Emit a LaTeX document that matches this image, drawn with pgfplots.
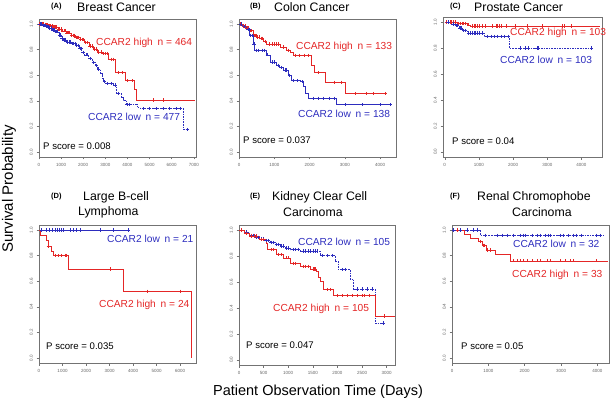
\documentclass[border=0pt]{standalone}
\usepackage{fontspec}
\setmainfont{Liberation Sans}
\usepackage{pgfplots}
\pgfplotsset{compat=1.18}
\definecolor{ccred}{RGB}{228,38,38}
\definecolor{ccblue}{RGB}{45,45,190}
\newcommand\ttlfont{\fontsize{12.3}{13}\selectfont}
\newcommand\pnlfont{\fontsize{7.5}{8}\selectfont\bfseries}
\newcommand\lblfont{\fontsize{10.2}{11}\selectfont}
\newcommand\pfont{\fontsize{9.6}{10}\selectfont}
\newcommand\tkfont{\fontsize{4.5}{5}\selectfont}
\pgfplotsset{
  kmaxis/.style={scale only axis, anchor=north west, width=157pt, height=138pt,
    xmin=0, ymin=-0.04, ymax=1.04,
    ytick={0,0.2,0.4,0.6,0.8,1}, yticklabels={0.0,0.2,0.4,0.6,0.8,1.0},
    axis line style={black!55, line width=0.5pt},
    tick style={black!55, line width=0.4pt},
    tick align=outside, major tick length=2.5pt, tick pos=left,
    ticklabel style={font=\tkfont, text=black!60},
    yticklabel style={rotate=90, anchor=south},
    scaled ticks=false,
    /pgf/number format/1000 sep={},
    /pgf/number format/assume math mode=true,
    clip=false},
  redline/.style={const plot, ccred, line width=0.5pt, no marks},
  blueline/.style={const plot, ccblue, line width=0.5pt, no marks},
  bluedash/.style={const plot, ccblue, line width=0.5pt, no marks, dash pattern=on 1.6pt off 1pt},
  redcen/.style={only marks, mark=+, mark size=1.7pt, ccred, mark options={line width=0.5pt, solid}},
  bluecen/.style={only marks, mark=+, mark size=1.7pt, ccblue, mark options={line width=0.5pt, solid}},
}
\begin{document}
\begin{tikzpicture}[x=1pt,y=1pt]
\useasboundingbox (0,0) rectangle (610,-401);
% ---------- (A) Breast Cancer
\begin{axis}[kmaxis, at={(39pt,-19pt)}, xmax=7100, xtick={0,1000,2000,3000,4000,5000,6000,7000}]
\addplot[redline] coordinates {(0,1)(250,0.995)(450,0.988)(650,0.978)(850,0.963)(1050,0.948)(1250,0.932)(1450,0.913)(1650,0.896)(1850,0.879)(2050,0.858)(2250,0.83)(2450,0.806)(2650,0.783)(2850,0.77)(3136,0.724)(3440,0.62)(3890,0.557)(4330,0.49)(4410,0.407)(7050,0.407)};
\addplot[redcen] coordinates {(30,1)(90,1)(150,1)(210,1)(270,0.995)(330,0.995)(390,0.995)(470,0.988)(530,0.988)(590,0.988)(670,0.978)(730,0.978)(790,0.978)(870,0.963)(930,0.963)(990,0.963)(1070,0.948)(1130,0.948)(1190,0.948)(1270,0.932)(1330,0.932)(1390,0.932)(1470,0.913)(1530,0.913)(1590,0.913)(1670,0.896)(1730,0.896)(1790,0.896)(1880,0.879)(1960,0.879)(2020,0.879)(2100,0.858)(2200,0.858)(2300,0.83)(2400,0.83)(2500,0.806)(2600,0.806)(2700,0.783)(2800,0.783)(2900,0.77)(3000,0.77)(3080,0.77)(3250,0.724)(3380,0.724)(3600,0.62)(3750,0.62)(4000,0.557)(4200,0.557)(5180,0.407)(5640,0.407)};
\addplot[bluedash] coordinates {(0,1)(150,0.99)(300,0.98)(450,0.97)(600,0.955)(750,0.94)(900,0.915)(1000,0.89)(1100,0.875)(1250,0.86)(1450,0.848)(1650,0.832)(1800,0.81)(1924,0.78)(2050,0.76)(2227,0.73)(2400,0.7)(2530,0.678)(2650,0.65)(2760,0.613)(2850,0.58)(2909,0.549)(3000,0.535)(3364,0.523)(3515,0.459)(3700,0.43)(3818,0.407)(3950,0.371)(4424,0.348)(4575,0.338)(6540,0.175)(6710,0.175)};
\addplot[bluecen] coordinates {(40,1)(100,1)(170,0.99)(230,0.99)(280,0.99)(330,0.98)(390,0.98)(430,0.98)(480,0.97)(540,0.97)(630,0.955)(690,0.955)(780,0.94)(840,0.94)(930,0.915)(970,0.915)(1030,0.89)(1070,0.89)(1130,0.875)(1200,0.875)(1300,0.86)(1370,0.86)(1420,0.86)(1500,0.848)(1570,0.848)(1620,0.848)(1700,0.832)(1760,0.832)(1850,0.81)(1900,0.81)(1980,0.78)(2120,0.76)(2180,0.76)(2300,0.73)(2460,0.7)(2600,0.678)(2700,0.65)(2950,0.549)(3100,0.535)(3250,0.535)(3450,0.523)(3600,0.459)(3986,0.371)(4100,0.371)(4720,0.338)(5000,0.338)(5300,0.338)(5600,0.338)(5900,0.338)(6200,0.338)(6400,0.338)(6710,0.175)};
\end{axis}
% ---------- (B) Colon Cancer
\begin{axis}[kmaxis, at={(239pt,-19pt)}, xmax=4450, xtick={0,1000,2000,3000,4000}]
\addplot[redline] coordinates {(0,1)(100,0.985)(208,0.97)(300,0.95)(398,0.91)(500,0.9)(588,0.889)(700,0.865)(777,0.845)(1156,0.82)(1350,0.795)(1440,0.78)(1535,0.755)(2057,0.68)(2133,0.62)(2436,0.544)(3005,0.456)(4142,0.456)};
\addplot[redcen] coordinates {(40,1)(70,1)(130,0.985)(170,0.985)(230,0.97)(270,0.97)(330,0.95)(360,0.95)(420,0.91)(450,0.91)(480,0.91)(530,0.9)(560,0.9)(620,0.889)(660,0.889)(730,0.865)(850,0.845)(950,0.845)(1000,0.845)(1050,0.845)(1100,0.845)(1250,0.82)(1400,0.795)(1600,0.755)(1700,0.755)(1850,0.755)(1950,0.755)(2250,0.62)(2700,0.544)(2900,0.544)(3300,0.456)(3600,0.456)(3800,0.456)(4142,0.456)};
\addplot[blueline] coordinates {(0,1)(100,0.98)(208,0.96)(303,0.91)(398,0.845)(446,0.794)(760,0.76)(872,0.704)(1062,0.678)(1150,0.66)(1251,0.64)(1393,0.6)(1488,0.557)(1725,0.549)(1820,0.51)(1867,0.459)(1962,0.42)(2768,0.369)(4284,0.369)};
\addplot[bluecen] coordinates {(50,1)(150,0.98)(250,0.96)(280,0.96)(330,0.91)(370,0.91)(420,0.845)(480,0.794)(550,0.794)(650,0.794)(720,0.794)(800,0.76)(950,0.704)(1000,0.704)(1100,0.678)(1200,0.66)(1300,0.64)(1350,0.64)(1430,0.6)(1550,0.557)(1650,0.557)(1780,0.549)(2100,0.42)(2250,0.42)(2400,0.42)(2550,0.42)(2700,0.42)(3000,0.369)(3500,0.369)(4000,0.369)(4284,0.369)};
\end{axis}
% ---------- (C) Prostate Cancer
\begin{axis}[kmaxis, at={(443pt,-17pt)}, height=140pt, width=159pt, xmin=-50, xmax=4600, xtick={0,1000,2000,3000,4000}]
\addplot[redline] coordinates {(0,1)(364,0.99)(658,0.98)(757,0.97)(4550,0.97)};
\addplot[redcen] coordinates {(50,1)(100,1)(150,1)(200,1)(250,1)(300,1)(400,0.99)(450,0.99)(500,0.99)(550,0.99)(600,0.99)(700,0.98)(800,0.97)(850,0.97)(900,0.97)(950,0.97)(1000,0.97)(1100,0.97)(1200,0.97)(1400,0.97)(1500,0.97)(1550,0.97)(1600,0.97)(1650,0.97)(1800,0.97)(2060,0.97)(2400,0.97)(2850,0.97)(3450,0.97)(3500,0.97)(3700,0.97)};
\addplot[bluedash] coordinates {(0,1)(167,0.987)(315,0.974)(413,0.956)(511,0.936)(658,0.918)(1150,0.89)(1887,0.8)(4295,0.8)};
\addplot[bluecen] coordinates {(100,1)(250,0.987)(350,0.974)(380,0.974)(450,0.956)(480,0.956)(550,0.936)(600,0.936)(700,0.918)(750,0.918)(800,0.918)(850,0.918)(900,0.918)(950,0.918)(1000,0.918)(1100,0.918)(1250,0.89)(1350,0.89)(1450,0.89)(1550,0.89)(1650,0.89)(1750,0.89)(1850,0.89)(2200,0.8)(2350,0.8)(2450,0.8)(2700,0.8)(2750,0.8)(4295,0.8)};
\end{axis}
% ---------- (D) Large B-cell Lymphoma
\begin{axis}[kmaxis, at={(39pt,-225pt)}, xmax=6680, xtick={0,1000,2000,3000,4000,5000,6000}]
\addplot[blueline] coordinates {(0,1)(3814,1)};
\addplot[bluecen] coordinates {(100,1)(314,1)(457,1)(571,1)(671,1)(771,1)(857,1)(957,1)(1029,1)(1343,1)(1457,1)(1600,1)(1743,1)(2600,1)(3171,1)(3814,1)};
\addplot[redline] coordinates {(0,1)(57,0.96)(314,0.92)(386,0.875)(528,0.837)(600,0.8)(1243,0.695)(3600,0.52)(6457,0)};
\addplot[redcen] coordinates {(400,0.875)(671,0.8)(814,0.8)(957,0.8)(1100,0.8)(1130,0.8)(1171,0.8)(3029,0.695)(4600,0.52)(6029,0.52)};
\end{axis}
% ---------- (E) Kidney Clear Cell Carcinoma
\begin{axis}[kmaxis, at={(239pt,-225pt)}, height=140pt, width=156pt, xmax=3170, xtick={0,500,1000,1500,2000,2500,3000}]
\addplot[bluedash] coordinates {(0,1)(100,0.985)(217,0.96)(320,0.945)(421,0.933)(525,0.92)(625,0.907)(728,0.89)(828,0.877)(930,0.862)(1032,0.85)(1236,0.838)(1643,0.805)(1950,0.761)(2016,0.697)(2254,0.625)(2322,0.547)(2763,0.285)(2933,0.285)};
\addplot[bluecen] coordinates {(50,1)(150,0.985)(250,0.96)(290,0.96)(350,0.945)(390,0.945)(450,0.933)(500,0.933)(550,0.92)(600,0.92)(650,0.907)(700,0.907)(760,0.89)(800,0.89)(860,0.877)(900,0.877)(960,0.862)(1000,0.862)(1100,0.85)(1150,0.85)(1200,0.85)(1300,0.838)(1350,0.838)(1400,0.838)(1450,0.838)(1500,0.838)(1550,0.838)(1580,0.838)(1700,0.805)(1800,0.805)(1900,0.805)(2100,0.697)(2150,0.697)(2400,0.547)(2500,0.547)(2600,0.547)(2700,0.547)(2933,0.285)};
\addplot[redline] coordinates {(0,1)(100,0.975)(217,0.954)(421,0.928)(557,0.902)(580,0.85)(760,0.812)(896,0.787)(1032,0.743)(1236,0.722)(1439,0.702)(1575,0.684)(1609,0.64)(1643,0.607)(1711,0.542)(1914,0.496)(2763,0.337)(3170,0.337)};
\addplot[redcen] coordinates {(50,1)(150,0.975)(250,0.954)(300,0.954)(350,0.954)(450,0.928)(500,0.928)(650,0.85)(700,0.85)(800,0.812)(850,0.812)(950,0.787)(1000,0.787)(1100,0.743)(1150,0.743)(1300,0.722)(1350,0.722)(1400,0.722)(1500,0.702)(1520,0.702)(1550,0.702)(1800,0.542)(1850,0.542)(2000,0.496)(2100,0.496)(2200,0.496)(2300,0.496)(2400,0.496)(2500,0.496)(2550,0.496)(2650,0.496)(2950,0.337)};
\end{axis}
% ---------- (F) Renal Chromophobe Carcinoma
\begin{axis}[kmaxis, at={(452pt,-225pt)}, xmax=4320, xtick={0,1000,2000,3000,4000}]
\addplot[bluedash] coordinates {(0,1)(778,0.96)(4165,0.96)};
\addplot[bluecen] coordinates {(46,1)(137,1)(229,1)(412,1)(595,1)(686,1)(915,0.96)(1236,0.96)(1373,0.96)(1510,0.96)(1693,0.96)(1876,0.96)(1968,0.96)(2014,0.96)(2197,0.96)(2334,0.96)(2426,0.96)(2563,0.96)(2654,0.96)(2700,0.96)(2975,0.96)(3066,0.96)(3204,0.96)(3341,0.96)(3432,0.96)(3570,0.96)(3982,0.96)(4073,0.96)};
\addplot[redline] coordinates {(0,1)(339,0.97)(503,0.94)(732,0.91)(824,0.88)(943,0.845)(1190,0.81)(1602,0.76)(4300,0.76)};
\addplot[redcen] coordinates {(156,1)(778,0.91)(870,0.88)(900,0.88)(980,0.845)(1053,0.845)(1693,0.76)(1785,0.76)(1876,0.76)(1968,0.76)(2060,0.76)(2197,0.76)(2334,0.76)(2426,0.76)(2609,0.76)(2700,0.76)(2975,0.76)(3112,0.76)(3250,0.76)(3341,0.76)(3982,0.76)};
\end{axis}
% ---------- titles
\begin{scope}[every node/.style={inner sep=0pt, anchor=west}]
\node[font=\pnlfont] at (51,-7) {(A)};
\node[font=\ttlfont] at (77,-7) {Breast Cancer};
\node[font=\pnlfont] at (250,-7) {(B)};
\node[font=\ttlfont] at (274,-7) {Colon Cancer};
\node[font=\pnlfont] at (450,-7) {(C)};
\node[font=\ttlfont] at (474,-7) {Prostate Cancer};
\node[font=\pnlfont] at (51,-197) {(D)};
\node[font=\ttlfont] at (83,-197) {Large B-cell};
\node[font=\ttlfont] at (78,-212) {Lymphoma};
\node[font=\pnlfont] at (250,-197) {(E)};
\node[font=\ttlfont] at (272,-197) {Kidney Clear Cell};
\node[font=\ttlfont] at (283,-212) {Carcinoma};
\node[font=\pnlfont] at (450,-197) {(F)};
\node[font=\ttlfont] at (477,-197) {Renal Chromophobe};
\node[font=\ttlfont] at (512,-212) {Carcinoma};
% labels
\node[font=\lblfont, text=ccred] at (96,-43) {CCAR2 high\hspace{2pt} n = 464};
\node[font=\lblfont, text=ccblue] at (88,-117) {CCAR2 low\hspace{2pt} n = 477};
\node[font=\pfont] at (43,-146) {P score = 0.008};
\node[font=\lblfont, text=ccred] at (296,-47) {CCAR2 high\hspace{2pt} n = 133};
\node[font=\lblfont, text=ccblue] at (298,-114) {CCAR2 low\hspace{2pt} n = 138};
\node[font=\pfont] at (243,-140) {P score = 0.037};
\node[font=\lblfont, text=ccred] at (510,-33) {CCAR2 high\hspace{2pt} n = 103};
\node[font=\lblfont, text=ccblue] at (500,-60) {CCAR2 low\hspace{2pt} n = 103};
\node[font=\pfont] at (452,-141) {P score = 0.04};
\node[font=\lblfont, text=ccblue] at (107,-239) {CCAR2 low\hspace{2pt} n = 21};
\node[font=\lblfont, text=ccred] at (99,-305) {CCAR2 high\hspace{2pt} n = 24};
\node[font=\pfont] at (46,-346) {P score = 0.035};
\node[font=\lblfont, text=ccblue] at (298,-242) {CCAR2 low\hspace{2pt} n = 105};
\node[font=\lblfont, text=ccred] at (273,-309) {CCAR2 high\hspace{2pt} n = 105};
\node[font=\pfont] at (246,-345) {P score = 0.047};
\node[font=\lblfont, text=ccblue] at (513,-244) {CCAR2 low\hspace{2pt} n = 32};
\node[font=\lblfont, text=ccred] at (512,-275) {CCAR2 high\hspace{2pt} n = 33};
\node[font=\pfont] at (461,-346) {P score = 0.05};
\end{scope}
\node[rotate=90, inner sep=0pt, font=\fontsize{15}{16}\selectfont] at (9,-189) {Survival Probability};
\node[inner sep=0pt, font=\fontsize{14.5}{16}\selectfont] at (318,-392) {Patient Observation Time (Days)};
\end{tikzpicture}
\end{document}
